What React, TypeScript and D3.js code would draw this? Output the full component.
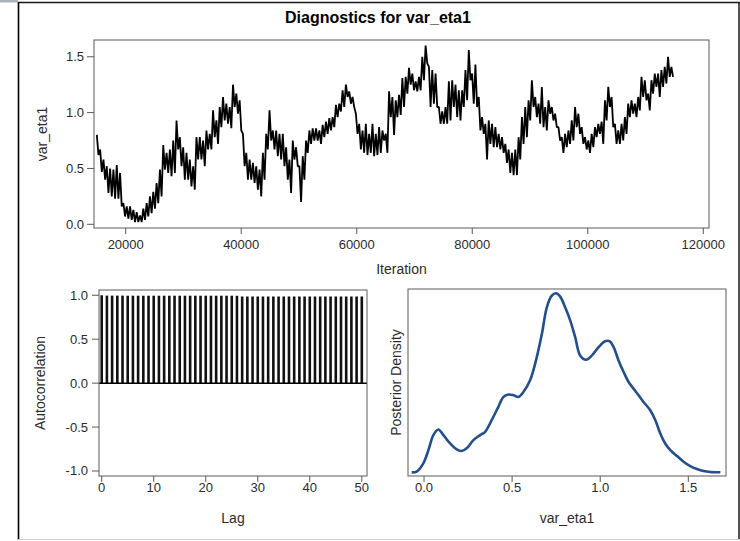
import React from "react";
import * as d3 from "d3";

const chartTitle = "Diagnostics for var_eta1";

// Trace: per-bin high/low envelope (bins of 575 iterations from 15000)
const traceStart = 15000;
const traceBin = 575;
const traceHi = [
  0.80, 0.67, 0.58, 0.52, 0.50, 0.49, 0.53, 0.46, 0.19, 0.16, 0.16, 0.13, 0.11, 0.08, 0.14, 0.19, 0.25, 0.29, 0.37, 0.49,
  0.71, 0.64, 0.67, 0.75, 0.93, 0.78, 0.69, 0.64, 0.58, 0.52, 0.78, 0.78, 0.75, 0.84, 0.81, 1.02, 0.93, 1.05, 1.14, 1.08,
  1.05, 1.25, 1.17, 1.11, 0.81, 0.64, 0.58, 0.55, 0.52, 0.49, 0.64, 0.81, 1.02, 0.84, 0.84, 0.81, 0.81, 0.69, 0.58, 0.75,
  0.69, 0.52, 0.61, 0.75, 0.84, 0.86, 0.86, 0.84, 0.89, 0.92, 0.95, 0.96, 1.07, 1.08, 1.20, 1.25, 1.19, 1.14, 0.99, 0.90,
  0.84, 0.90, 0.81, 0.90, 0.81, 0.87, 0.84, 0.81, 1.19, 1.14, 1.11, 1.16, 1.31, 1.32, 1.40, 1.35, 1.28, 1.32, 1.50, 1.60,
  1.41, 1.38, 1.35, 1.05, 1.01, 1.05, 1.28, 1.29, 1.25, 1.20, 1.20, 1.38, 1.56, 1.35, 1.43, 1.14, 0.96, 0.90, 0.93, 0.90,
  0.87, 0.81, 0.78, 0.72, 0.67, 0.64, 0.67, 0.78, 0.96, 1.05, 1.11, 1.29, 1.14, 1.08, 1.23, 1.05, 1.11, 1.05, 0.99, 0.87,
  0.78, 0.81, 0.84, 0.93, 1.05, 0.99, 0.87, 0.78, 0.75, 0.81, 0.87, 0.90, 0.92, 1.11, 1.23, 1.14, 0.90, 0.84, 0.90, 0.96,
  1.08, 1.11, 1.08, 1.14, 1.32, 1.29, 1.17, 1.29, 1.35, 1.35, 1.38, 1.41, 1.50, 1.41,
];
const traceLo = [
  0.62, 0.47, 0.40, 0.28, 0.25, 0.23, 0.23, 0.16, 0.07, 0.05, 0.04, 0.02, 0.02, 0.02, 0.04, 0.07, 0.10, 0.14, 0.19, 0.25,
  0.49, 0.46, 0.43, 0.46, 0.67, 0.52, 0.40, 0.40, 0.34, 0.31, 0.58, 0.58, 0.52, 0.67, 0.67, 0.78, 0.72, 0.87, 0.93, 0.90,
  0.86, 1.05, 0.99, 0.84, 0.52, 0.40, 0.40, 0.37, 0.31, 0.25, 0.40, 0.67, 0.75, 0.67, 0.61, 0.58, 0.52, 0.40, 0.28, 0.58,
  0.52, 0.20, 0.40, 0.64, 0.72, 0.75, 0.75, 0.72, 0.78, 0.81, 0.84, 0.87, 0.96, 1.01, 1.05, 1.14, 1.08, 1.05, 0.81, 0.67,
  0.64, 0.62, 0.64, 0.61, 0.62, 0.64, 0.75, 0.64, 0.96, 0.80, 0.96, 0.98, 1.05, 1.17, 1.25, 1.20, 1.19, 1.20, 1.29, 1.44,
  1.05, 1.08, 1.05, 0.90, 0.90, 0.90, 0.93, 1.05, 0.96, 0.93, 1.05, 1.11, 1.29, 1.08, 1.05, 0.84, 0.81, 0.58, 0.72, 0.69,
  0.69, 0.67, 0.64, 0.55, 0.46, 0.44, 0.44, 0.58, 0.72, 0.78, 0.93, 1.05, 0.96, 0.90, 0.87, 0.84, 0.99, 0.93, 0.87, 0.75,
  0.64, 0.69, 0.72, 0.75, 0.87, 0.81, 0.72, 0.67, 0.64, 0.69, 0.78, 0.81, 0.72, 0.93, 1.05, 0.87, 0.72, 0.72, 0.75, 0.81,
  0.96, 0.99, 0.96, 1.02, 1.14, 1.11, 1.02, 1.17, 1.23, 1.14, 1.23, 1.26, 1.32, 1.32,
];
const traceXTicks = [20000, 40000, 60000, 80000, 100000, 120000];
const traceYTicks = [0, 0.5, 1.0, 1.5];

// Autocorrelation by lag 0..50
const acfValues = [
  1.0, 0.996, 0.996, 0.996, 0.996, 0.995, 0.995, 0.995, 0.995, 0.995, 0.995, 0.995, 0.995, 0.995, 0.995, 0.995, 0.995,
  0.995, 0.995, 0.995, 0.995, 0.995, 0.995, 0.995, 0.995, 0.995, 0.994, 0.986, 0.986, 0.986, 0.986, 0.986, 0.986, 0.986,
  0.986, 0.986, 0.986, 0.986, 0.986, 0.986, 0.986, 0.986, 0.986, 0.986, 0.986, 0.986, 0.986, 0.986, 0.986, 0.986, 0.986,
];
const acfXTicks = [0, 10, 20, 30, 40, 50];
const acfYTicks = [-1.0, -0.5, 0.0, 0.5, 1.0];

// Posterior density curve
const densX = [
  -0.07, -0.042, -0.004, 0.025, 0.053, 0.081, 0.11, 0.148, 0.186, 0.214, 0.242, 0.28, 0.318, 0.347, 0.384, 0.422, 0.451,
  0.479, 0.508, 0.536, 0.564, 0.602, 0.64, 0.669, 0.697, 0.725, 0.75, 0.773, 0.801, 0.83, 0.858, 0.886, 0.92, 0.953,
  0.991, 1.028, 1.053, 1.076, 1.104, 1.133, 1.161, 1.189, 1.218, 1.246, 1.284, 1.313, 1.341, 1.369, 1.398, 1.436, 1.473,
  1.511, 1.549, 1.587, 1.625, 1.682,
];
const densY = [
  0.0, 0.006, 0.08, 0.199, 0.332, 0.383, 0.332, 0.258, 0.205, 0.19, 0.214, 0.288, 0.332, 0.362, 0.466, 0.585, 0.674,
  0.695, 0.689, 0.674, 0.718, 0.822, 1.03, 1.238, 1.475, 1.579, 1.6, 1.57, 1.475, 1.356, 1.208, 1.045, 1.006, 1.045,
  1.119, 1.172, 1.172, 1.119, 1.0, 0.896, 0.807, 0.748, 0.689, 0.629, 0.555, 0.466, 0.347, 0.258, 0.199, 0.145, 0.095,
  0.056, 0.03, 0.012, 0.003, 0.0,
];
const densXTicks = [0.0, 0.5, 1.0, 1.5];

const FONT = "'Liberation Sans', Arial, sans-serif";
const AXIS = "#5a5a5a";
const TXT = "#2b2b2b";

export default function App() {
  // Trace panel
  const tL = 94, tR = 709, tT = 40, tB = 228;
  const tx = d3.scaleLinear().domain([14510, 120990]).range([tL, tR]);
  const ty = d3.scaleLinear().domain([-0.033, 1.65]).range([tB, tT]);
  const tracePts: [number, number][] = [];
  traceHi.forEach((h, i) => {
    tracePts.push([traceStart + i * traceBin, h]);
    tracePts.push([traceStart + (i + 0.5) * traceBin, traceLo[i]]);
  });
  const tracePath = d3
    .line<[number, number]>()
    .x((d) => tx(d[0]))
    .y((d) => ty(d[1]))(tracePts) as string;

  // ACF panel
  const aL = 99, aR = 367, aT = 290, aB = 476;
  const ax = d3.scaleLinear().domain([-0.52, 51.0]).range([aL, aR]);
  const ay = d3.scaleLinear().domain([-1.057, 1.06]).range([aB, aT]);

  // Density panel
  const dL = 408, dR = 726, dT = 289, dB = 476;
  const dx = d3.scaleLinear().domain([-0.091, 1.714]).range([dL, dR]);
  const dy = d3.scaleLinear().domain([0, 1.6]).range([472.3, 293.3]);
  const densPath = d3
    .line<number>()
    .x((d, i) => dx(densX[i]))
    .y((d) => dy(d))
    .curve(d3.curveCatmullRom.alpha(0.5))(densY) as string;

  const tickFs = 13;
  const labFs = 14;

  return (
    <svg
      width={740}
      height={541}
      style={{ position: "absolute", left: 0, top: 0, background: "#fff" }}
      fontFamily={FONT}
    >
      {/* outer frame */}
      <rect x={0} y={0} width={18} height={2.5} fill="#a9b3be" />
      <line x1={18} y1={2.5} x2={740} y2={2.5} stroke="#1a1a1a" strokeWidth={1.5} />
      <line x1={18.5} y1={2} x2={18.5} y2={540} stroke="#000" strokeWidth={1.6} />
      <line x1={739} y1={2} x2={739} y2={540} stroke="#1a1a1a" strokeWidth={1.5} />
      <line x1={18} y1={539.5} x2={740} y2={539.5} stroke="#cfcfcf" strokeWidth={1.2} />

      <text x={378} y={23} textAnchor="middle" fontSize={16} fontWeight="bold" fill="#000">
        {chartTitle}
      </text>

      {/* Trace panel */}
      <path d={tracePath} fill="none" stroke="#000" strokeWidth={1.8} strokeLinejoin="bevel" />
      <rect x={tL} y={tT} width={tR - tL} height={tB - tT} fill="none" stroke={AXIS} strokeWidth={1} />
      {traceYTicks.map((v) => (
        <g key={"ty" + v}>
          <line x1={tL - 7} x2={tL} y1={ty(v)} y2={ty(v)} stroke={AXIS} />
          <text x={tL - 10} y={ty(v) + 4.5} textAnchor="end" fontSize={tickFs} fill={TXT}>
            {d3.format(".1f")(v)}
          </text>
        </g>
      ))}
      {traceXTicks.map((v) => (
        <g key={"tx" + v}>
          <line x1={tx(v)} x2={tx(v)} y1={tB} y2={tB + 6} stroke={AXIS} />
          <text x={tx(v)} y={tB + 21} textAnchor="middle" fontSize={tickFs} fill={TXT}>
            {v}
          </text>
        </g>
      ))}
      <text x={(tL + tR) / 2} y={274} textAnchor="middle" fontSize={labFs} fill={TXT}>
        Iteration
      </text>
      <text
        transform={`translate(47,${(tT + tB) / 2}) rotate(-90)`}
        textAnchor="middle"
        fontSize={labFs}
        fill={TXT}
      >
        var_eta1
      </text>

      {/* ACF panel */}
      {acfValues.map((v, k) => (
        <rect
          key={"acf" + k}
          x={ax(k) - 1.3}
          width={2.6}
          y={ay(v)}
          height={ay(0) - ay(v)}
          fill="#111"
        />
      ))}
      <line x1={aL} x2={aR} y1={ay(0)} y2={ay(0)} stroke="#000" strokeWidth={1.5} />
      <rect x={aL} y={aT} width={aR - aL} height={aB - aT} fill="none" stroke={AXIS} strokeWidth={1} />
      {acfYTicks.map((v) => (
        <g key={"ay" + v}>
          <line x1={aL - 7} x2={aL} y1={ay(v)} y2={ay(v)} stroke={AXIS} />
          <text x={aL - 11} y={ay(v) + 4.5} textAnchor="end" fontSize={tickFs} fill={TXT}>
            {d3.format(".1f")(v).replace("−", "-")}
          </text>
        </g>
      ))}
      {acfXTicks.map((v) => (
        <g key={"ax" + v}>
          <line x1={ax(v)} x2={ax(v)} y1={aB} y2={aB + 6} stroke={AXIS} />
          <text x={ax(v)} y={aB + 16} textAnchor="middle" fontSize={tickFs} fill={TXT}>
            {v}
          </text>
        </g>
      ))}
      <text x={(aL + aR) / 2} y={523} textAnchor="middle" fontSize={labFs} fill={TXT}>
        Lag
      </text>
      <text
        transform={`translate(45,${(aT + aB) / 2}) rotate(-90)`}
        textAnchor="middle"
        fontSize={labFs}
        fill={TXT}
      >
        Autocorrelation
      </text>

      {/* Density panel */}
      <path d={densPath} fill="none" stroke="#234f8c" strokeWidth={2.6} strokeLinejoin="round" />
      <rect x={dL} y={dT} width={dR - dL} height={dB - dT} fill="none" stroke={AXIS} strokeWidth={1} />
      {densXTicks.map((v) => (
        <g key={"dx" + v}>
          <line x1={dx(v)} x2={dx(v)} y1={dB} y2={dB + 6} stroke={AXIS} />
          <text x={dx(v)} y={dB + 16} textAnchor="middle" fontSize={tickFs} fill={TXT}>
            {d3.format(".1f")(v)}
          </text>
        </g>
      ))}
      <text x={(dL + dR) / 2} y={523} textAnchor="middle" fontSize={labFs} fill={TXT}>
        var_eta1
      </text>
      <text
        transform={`translate(401,${(dT + dB) / 2}) rotate(-90)`}
        textAnchor="middle"
        fontSize={labFs}
        fill={TXT}
      >
        Posterior Density
      </text>
    </svg>
  );
}
